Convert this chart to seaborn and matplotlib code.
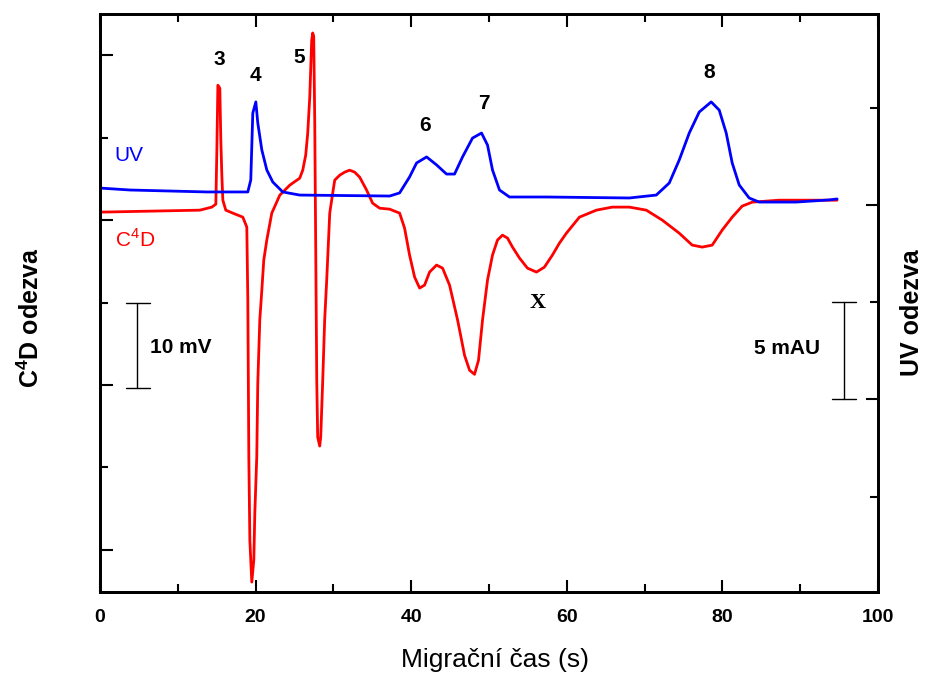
import numpy as np
import pandas as pd
import matplotlib
matplotlib.use("Agg")
import matplotlib.pyplot as plt
import seaborn as sns
from matplotlib.ticker import MultipleLocator, NullFormatter

# ---- data ----
c4d_time = [0, 6.42, 12.84, 14.38, 14.89, 15.02, 15.15, 15.40, 15.53, 15.66, 15.79, 16.17, 17.07,
            18.36, 18.87, 19.0, 19.13, 19.26, 19.51, 19.77, 19.90, 20.15, 20.28, 20.54, 20.80,
            21.05, 21.44, 22.08, 23.11, 24.39, 25.67, 26.06, 26.44, 26.70, 26.96, 27.21, 27.34,
            27.47, 27.60, 27.73, 27.86, 27.98, 28.24, 28.37, 28.63, 28.88, 29.14, 29.53, 29.91,
            30.17, 30.81, 31.45, 32.09, 32.73, 33.38, 34.27, 35.04, 35.94, 37.23, 38.51, 39.15,
            39.79, 40.44, 41.08, 41.72, 42.36, 43.26, 44.03, 44.93, 45.96, 46.86, 47.5, 48.14,
            48.65, 49.17, 49.81, 50.45, 51.09, 51.73, 52.38, 53.02, 53.92, 54.94, 56.1, 57.12,
            58.15, 59.05, 59.95, 61.62, 63.8, 65.85, 68.04, 70.22, 72.27, 74.45, 76.12, 77.41,
            78.69, 79.97, 81.26, 82.54, 83.83, 87.29, 91.53, 94.74]
c4d_mv = [0.97, 1.09, 1.21, 1.58, 1.94, 8.48, 16.36, 16.0, 9.7, 5.45, 2.42, 1.21, 0.85,
          0.36, -0.85, -9.7, -28.7, -38.8, -43.9, -41.2, -35.5, -28.7, -19.8, -12.1, -8.5,
          -4.85, -2.42, 0.85, 3.03, 4.24, 5.09, 6.06, 7.88, 10.55, 14.9, 21.8, 22.7,
          22.3, 12.1, -3.6, -19.4, -26.3, -27.4, -26.3, -19.4, -12.1, -7.27, 0.85, 3.27,
          4.85, 5.45, 5.82, 6.06, 5.82, 5.21, 3.64, 2.06, 1.45, 1.33, 0.85, -0.97,
          -4.24, -6.91, -8.24, -7.88, -6.3, -5.45, -5.82, -7.88, -12.1, -16.4, -18.2, -18.7,
          -17.0, -12.1, -7.27, -4.24, -2.42, -1.82, -2.18, -3.27, -4.6, -5.82, -6.3, -5.7,
          -4.24, -2.79, -1.58, 0.36, 1.21, 1.58, 1.58, 1.21, 0.0, -1.58, -3.03, -3.27,
          -3.03, -1.21, 0.36, 1.7, 2.18, 2.42, 2.42, 2.42]

uv_time = [0, 3.85, 13.74, 19.0, 19.38, 19.64, 20.03, 20.28, 20.80, 21.44, 22.21, 23.49,
           25.67, 37.23, 38.51, 39.79, 40.69, 41.98, 43.26, 44.54, 45.57, 46.6, 47.88, 49.04,
           49.81, 50.45, 51.35, 52.63, 57.38, 68.04, 71.5, 73.17, 74.45, 75.74, 77.02, 78.56,
           79.59, 80.49, 81.26, 82.16, 83.44, 84.72, 89.47, 93.71, 94.74]
uv_mau = [0.87, 0.77, 0.67, 0.67, 1.29, 4.73, 5.30, 4.22, 2.83, 1.80, 1.18, 0.67,
          0.51, 0.46, 0.62, 1.44, 2.16, 2.47, 2.06, 1.59, 1.59, 2.47, 3.44, 3.70,
          3.08, 1.80, 0.77, 0.41, 0.41, 0.36, 0.51, 1.13, 2.31, 3.70, 4.78, 5.30,
          4.88, 3.70, 2.16, 1.03, 0.36, 0.15, 0.15, 0.26, 0.31]

peak_labels = ["3", "4", "5", "6", "7", "8"]
peak_label_time = [15.4, 20.0, 25.6, 41.8, 49.3, 78.3]

df_c4d = pd.DataFrame({"t": c4d_time, "v": c4d_mv})
df_uv = pd.DataFrame({"t": uv_time, "v": uv_mau})

# ---- style ----
sns.set_style("ticks")
plt.rcParams["font.family"] = ["Liberation Sans", "DejaVu Sans"]
plt.rcParams["mathtext.fontset"] = "custom"
plt.rcParams["mathtext.rm"] = "Liberation Sans"
plt.rcParams["mathtext.bf"] = "Liberation Sans:bold"
plt.rcParams["text.color"] = "black"
plt.rcParams["xtick.color"] = "black"
plt.rcParams["ytick.color"] = "black"
plt.rcParams["axes.labelcolor"] = "black"

W, H = 928, 673
fig = plt.figure(figsize=(W / 100, H / 100), dpi=100)
ax = fig.add_axes([100 / W, 1 - 592 / H, 778 / W, 578 / H])
ax2 = ax.twinx()

sns.lineplot(data=df_c4d, x="t", y="v", ax=ax, color="#ff0000", lw=2,
             estimator=None, sort=False)
sns.lineplot(data=df_uv, x="t", y="v", ax=ax2, color="#0000ff", lw=2,
             estimator=None, sort=False)

ax.set_xlim(0, 100)
ax.set_ylim(-45.1, 25.0)
ax2.set_ylim(-19.9, 9.82)

ax.xaxis.set_major_locator(MultipleLocator(20))
ax.xaxis.set_minor_locator(MultipleLocator(10))
ax.yaxis.set_major_locator(MultipleLocator(20))
ax.yaxis.set_minor_locator(MultipleLocator(10))
ax.yaxis.set_major_formatter(NullFormatter())
ax2.yaxis.set_major_locator(MultipleLocator(10))
ax2.yaxis.set_minor_locator(MultipleLocator(5))
ax2.yaxis.set_major_formatter(NullFormatter())

ax.tick_params(axis="x", which="major", direction="in", length=9, width=1.5,
               top=True, pad=12, labelsize=14, colors="black")
ax.tick_params(axis="x", which="minor", direction="in", length=6, width=1.5, top=True)
ax.tick_params(axis="y", which="major", direction="in", length=9, width=1.5, right=False)
ax.tick_params(axis="y", which="minor", direction="in", length=6, width=1.5, right=False)
ax2.tick_params(axis="y", which="major", direction="in", length=9, width=1.5)
ax2.tick_params(axis="y", which="minor", direction="in", length=6, width=1.5)
for lab in ax.get_xticklabels():
    lab.set_fontweight("bold")

for a in (ax, ax2):
    for s in a.spines.values():
        s.set_linewidth(2)
        s.set_color("black")

ax.set_xlabel("")
ax.set_ylabel("")
ax2.set_ylabel("")
fig.text(495 / W, 1 - 660 / H, "Migrační čas (s)", fontsize=19, color="black",
         ha="center", va="center")
fig.text(31 / W, 1 - 318 / H, r"C$^{\mathbf{4}}$D odezva", fontsize=18, color="black",
         fontweight="bold", rotation=90, ha="center", va="center")
fig.text(912 / W, 1 - 313 / H, "UV odezva", fontsize=18, color="black",
         fontweight="bold", rotation=90, ha="center", va="center")

# peak labels
label_y = [60, 76, 58, 126, 104, 73]  # pixel rows in reference
for lab, tx, py in zip(peak_labels, peak_label_time, label_y):
    ax.text(tx, 25.0 - (py - 14) / 8.25, lab, ha="center", va="center",
            fontsize=15, fontweight="bold", color="black")

ax.text(1.9, 25.0 - (156 - 14) / 8.25, "UV", color="#0000ff", fontsize=15,
        ha="left", va="center")
ax.text(1.9, 25.0 - (240 - 14) / 8.25, r"C$^{\mathrm{4}}$D", color="#ff0000", fontsize=15,
        ha="left", va="center")
ax.text(56.3, 25.0 - (303 - 14) / 8.25, "X", fontsize=16, fontweight="bold",
        family="Liberation Serif", ha="center", va="center", color="black")

# scale bars
bx = 4.8
ax.plot([bx, bx], [-10, -20.3], color="black", lw=1)
ax.plot([bx - 1.5, bx + 1.6], [-10, -10], color="black", lw=1)
ax.plot([bx - 1.5, bx + 1.6], [-20.3, -20.3], color="black", lw=1)
ax.text(6.4, -15.4, "10 mV", fontsize=15, fontweight="bold", ha="left", va="center",
        color="black")

rx = 95.6
ax2.plot([rx, rx], [-5, -10], color="black", lw=1)
ax2.plot([rx - 1.5, rx + 1.6], [-5, -5], color="black", lw=1)
ax2.plot([rx - 1.5, rx + 1.6], [-10, -10], color="black", lw=1)
ax2.text(92.6, -7.4, "5 mAU", fontsize=15, fontweight="bold", ha="right", va="center",
         color="black")

fig.savefig("out.png", dpi=100)
